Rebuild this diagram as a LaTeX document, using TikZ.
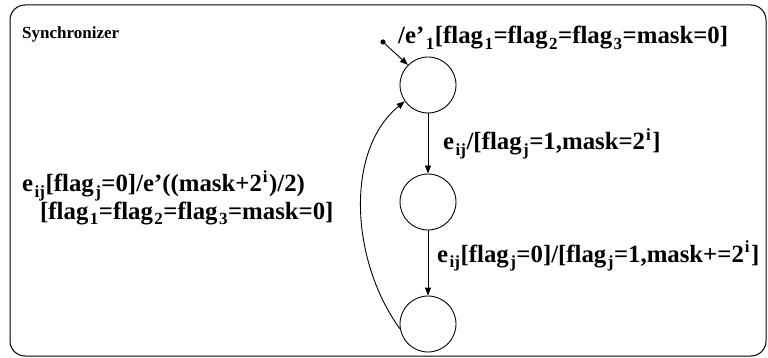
\documentclass[tikz,border=0pt]{standalone}
\usepackage{fontspec}
\setmainfont{Liberation Serif}
\usetikzlibrary{arrows.meta}
\newcommand{\mysb}[1]{\kern1.5pt\raisebox{-0.5ex}{\fontsize{17}{17}\selectfont #1}\kern0.5pt}
\newcommand{\mysp}[1]{\kern1pt\raisebox{0.8ex}{\fontsize{17}{17}\selectfont #1}\kern1.5pt}
\begin{document}
\begin{tikzpicture}[x=1pt,y=-1pt,
  state/.style={draw,circle,minimum size=56pt,inner sep=0pt,line width=0.9pt},
  lbl/.style={font=\bfseries\fontsize{24.8}{28}\selectfont,inner sep=0pt,anchor=base west},
  conn/.style={-{Triangle[length=8pt,width=6pt]},line width=0.9pt}]
\useasboundingbox (0,0) rectangle (768,358);
\draw[line width=1pt,rounded corners=15pt] (10,5) rectangle (766,356);
\node[font=\bfseries\fontsize{17}{19}\selectfont,anchor=base west,inner sep=0pt] (title) at (22,39) {Synchronizer};
\node[state] (s1) at (428,85) {};
\node[state] (s2) at (428,202) {};
\node[state] (s3) at (428,324) {};
\fill (383,42) circle (2.6pt) coordinate (init);
\coordinate (initc) at (383,42);
\draw[conn] (initc) -- (s1.135);
\draw[conn] (s1) -- (s2);
\draw[conn] (s2) -- (s3);
\draw[conn] (s3.190) .. controls (350,260) and (345,150) .. (s1.215);
\node[lbl] (l1) at (398,44) {/e'\mysb{1}[flag\mysb{1}=flag\mysb{2}=flag\mysb{3}=mask=0]};
\node[lbl] (l2) at (443,150) {e\mysb{ij}/[flag\mysb{j}=1,mask=2\mysp{i}]};
\node[lbl] (l3) at (437,262) {e\mysb{ij}[flag\mysb{j}=0]/[flag\mysb{j}=1,mask+=2\mysp{i}]};
\node[lbl] (l4) at (22,192) {e\mysb{ij}[flag\mysb{j}=0]/e'((mask+2\mysp{i})/2)};
\node[lbl] (l5) at (40,219) {[flag\mysb{1}=flag\mysb{2}=flag\mysb{3}=mask=0]};
\end{tikzpicture}
\end{document}
